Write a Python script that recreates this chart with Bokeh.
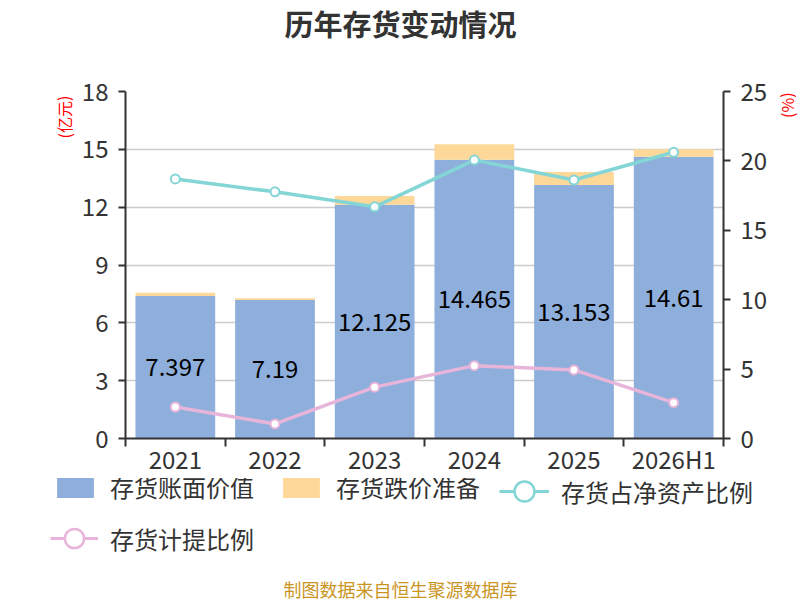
from bokeh.plotting import figure
from bokeh.models import (ColumnDataSource, Range1d, LinearAxis, FixedTicker,
                          Legend, LegendItem)
from bokeh.layouts import column, row
from bokeh.embed import file_html
from bokeh.resources import INLINE

categories = ["2021", "2022", "2023", "2024", "2025", "2026H1"]
book_value = [7.397, 7.19, 12.125, 14.465, 13.153, 14.61]
impairment = [0.16, 0.08, 0.46, 0.80, 0.67, 0.39]
ratio_net_assets = [18.7, 17.77, 16.69, 20.06, 18.62, 20.62]
provision_ratio = [2.27, 1.05, 3.70, 5.25, 4.94, 2.58]
left_ticks = [0, 3, 6, 9, 12, 15, 18]
right_ticks = [0, 5, 10, 15, 20, 25]

FONT = "Noto Sans CJK SC"
BLUE = "#8eaedb"
ORANGE = "#fdd898"
CYAN = "#84d5d6"
PINK = "#e8b5da"
TXT = "#333333"
NAN = float("nan")

# page layout (pixels)
W, H = 800, 600
TOP_H = 70            # title strip
MID_H = 408           # main chart strip
BOT_H = H - TOP_H - MID_H
L_W, R_W = 75, 30
M_W = W - L_W - R_W
FL, FR = 125, 725     # frame left/right on page
FT, FB = 91, 439      # frame top/bottom on page
MID_BOTTOM = TOP_H + MID_H


def blank(width, height):
    f = figure(width=width, height=height, output_backend="svg", toolbar_location=None,
               x_range=Range1d(0, width), y_range=Range1d(0, height),
               x_axis_type=None, y_axis_type=None, min_border=0)
    f.outline_line_color = None
    f.xgrid.visible = False
    f.ygrid.visible = False
    return f


# ---------- title strip ----------
top = blank(W, TOP_H)
top.text(x=[W / 2], y=[TOP_H - 22], text=["历年存货变动情况"], text_align="center",
         text_baseline="middle", text_font={"value": FONT}, text_font_size="29px",
         text_font_style="bold", text_color=TXT)

# ---------- left / right strips (axis names) ----------
lstrip = blank(L_W, MID_H)
lstrip.text(x=[63], y=[MID_BOTTOM - 100], text=["(亿元)"], angle=1.5708,
            text_align="center", text_baseline="middle", text_font={"value": FONT},
            text_font_size="16px", text_color="#ff0000")
rstrip = blank(R_W, MID_H)
rstrip.text(x=[786 - (W - R_W)], y=[MID_BOTTOM - 86], text=["(%)"], angle=1.5708,
            text_align="center", text_baseline="middle", text_font={"value": FONT},
            text_font_size="16px", text_color="#ff0000")

# ---------- main chart ----------
xs = list(range(len(categories)))
totals = [b + i for b, i in zip(book_value, impairment)]
mids = [b / 2 for b in book_value]
src = ColumnDataSource(dict(x=xs, book=book_value, imp=impairment, tot=totals,
                            mid=mids, lab=[str(v) for v in book_value],
                            r1=ratio_net_assets, r2=provision_ratio))

p = figure(width=M_W, height=MID_H, output_backend="svg", toolbar_location=None,
           x_range=Range1d(-0.5, len(categories) - 0.5), y_range=Range1d(0, 18),
           min_border_left=FL - L_W, min_border_right=(W - R_W) - FR,
           min_border_top=FT - TOP_H, min_border_bottom=MID_BOTTOM - FB)
p.outline_line_color = None
p.extra_y_ranges = {"pct": Range1d(0, 25)}

p.vbar(x="x", top="book", bottom=0, width=0.8, source=src, fill_color=BLUE, line_color=None)
p.vbar(x="x", top="tot", bottom="book", width=0.8, source=src, fill_color=ORANGE, line_color=None)
p.text(x="x", y="mid", text="lab", source=src, text_align="center", text_baseline="middle",
       text_font={"value": FONT}, text_font_size="24px", text_color="#000000")

p.line(x="x", y="r1", source=src, y_range_name="pct", line_color=CYAN, line_width=3.5)
p.scatter(x="x", y="r1", source=src, y_range_name="pct", size=9, fill_color="white",
          line_color=CYAN, line_width=2)
p.line(x="x", y="r2", source=src, y_range_name="pct", line_color=PINK, line_width=3.5)
p.scatter(x="x", y="r2", source=src, y_range_name="pct", size=9, fill_color="white",
          line_color=PINK, line_width=2)

p.yaxis.ticker = FixedTicker(ticks=left_ticks)
p.xaxis.ticker = FixedTicker(ticks=xs, minor_ticks=[i - 0.5 for i in range(len(categories) + 1)])
p.xaxis.major_label_overrides = {i: c for i, c in enumerate(categories)}
p.xaxis.major_tick_out = 0
p.xaxis.major_tick_in = 0
p.xaxis.minor_tick_out = 8
p.xaxis.minor_tick_in = 0
p.xaxis.minor_tick_line_color = TXT
p.xaxis.minor_tick_line_width = 2
p.xaxis.major_label_standoff = -6

ra = LinearAxis(y_range_name="pct", ticker=FixedTicker(ticks=right_ticks))
p.add_layout(ra, "right")

for ax in [p.xaxis[0], p.yaxis[0], ra]:
    ax.axis_line_color = TXT
    ax.axis_line_width = 2
    ax.major_label_text_font = FONT
    ax.major_label_text_font_size = "24px"
    ax.major_label_text_color = TXT
for ax in [p.yaxis[0], ra]:
    ax.major_tick_line_color = TXT
    ax.major_tick_line_width = 2
    ax.major_tick_out = 7
    ax.major_tick_in = 0
    ax.minor_tick_line_color = None
    ax.major_label_standoff = 10

p.xgrid.grid_line_color = None
p.ygrid.grid_line_color = "#cccccc"
p.ygrid.grid_line_width = 1.5
p.ygrid.ticker = FixedTicker(ticks=left_ticks)

# ---------- bottom strip: legend + source note ----------
bot = blank(W, BOT_H)
proxy = ColumnDataSource(dict(x=[NAN], y=[NAN]))   # legend proxies, nothing drawn
lb = bot.vbar(x="x", top="y", width=1, source=proxy, fill_color=BLUE, line_color=None)
lo = bot.vbar(x="x", top="y", width=1, source=proxy, fill_color=ORANGE, line_color=None)
lc_l = bot.line(x="x", y="y", source=proxy, line_color=CYAN, line_width=3)
lc_c = bot.scatter(x="x", y="y", source=proxy, fill_color="white", line_color=CYAN, line_width=2.5)
lp_l = bot.line(x="x", y="y", source=proxy, line_color=PINK, line_width=3)
lp_c = bot.scatter(x="x", y="y", source=proxy, fill_color="white", line_color=PINK, line_width=2.5)


def add_legend(label, renderers, left, center_y, gw, gh):
    # left / center_y are page pixels; legend location is from bottom-left of strip
    vy = H - (center_y + gh / 2)
    lg = Legend(items=[LegendItem(label=label, renderers=renderers)], location=(left, vy),
                orientation="horizontal", glyph_width=gw, glyph_height=gh, label_standoff=12,
                label_text_font=FONT, label_text_font_size="24px", label_text_color=TXT,
                padding=0, margin=0, border_line_color=None, background_fill_alpha=0,
                label_height=gh)
    bot.add_layout(lg, "center")


add_legend("存货账面价值", [lb], 52, 491, 46, 26)
add_legend("存货跌价准备", [lo], 278, 491, 46, 26)
add_legend("存货占净资产比例", [lc_l, lc_c], 499, 491, 50, 50)
add_legend("存货计提比例", [lp_l, lp_c], 50, 538, 48, 50)

bot.text(x=[W / 2], y=[H - 588], text=["制图数据来自恒生聚源数据库"], text_align="center",
         text_baseline="middle", text_font={"value": FONT}, text_font_size="18px",
         text_color="#c9951f")

layout = column(top, row(lstrip, p, rstrip), bot)
open("out.html", "w").write(file_html(layout, INLINE))
